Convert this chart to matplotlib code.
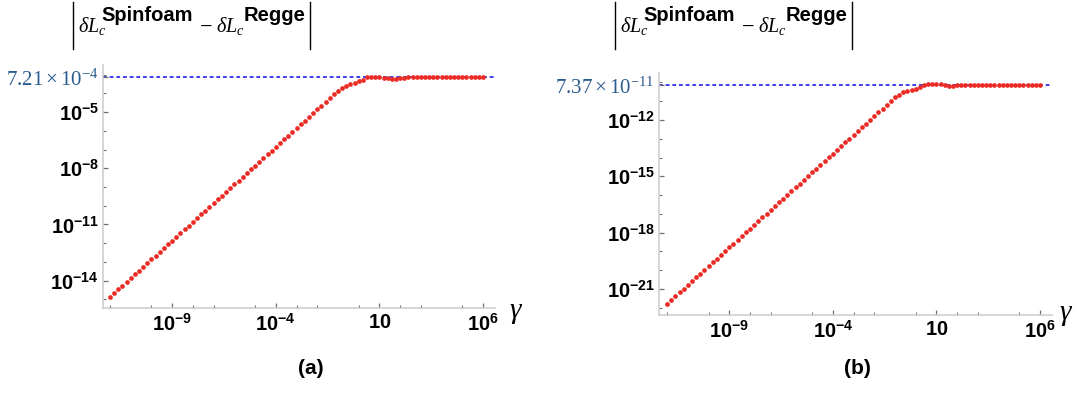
#!/usr/bin/env python3
import numpy as np
import matplotlib
matplotlib.use("Agg")
import matplotlib.pyplot as plt
from matplotlib.ticker import FixedLocator, FixedFormatter, NullFormatter
from matplotlib.lines import Line2D

# gamma grid (log10), same for both panels
GAMMA_EXP = [
    -12.0, -11.8, -11.6, -11.4, -11.2, -11.0, -10.8, -10.6, -10.4, -10.2,
    -10.0, -9.8, -9.6, -9.4, -9.2, -9.0, -8.8, -8.6, -8.4, -8.2,
    -8.0, -7.8, -7.6, -7.4, -7.2, -7.0, -6.8, -6.6, -6.4, -6.2,
    -6.0, -5.8, -5.6, -5.4, -5.2, -5.0, -4.8, -4.6, -4.4, -4.2,
    -4.0, -3.8, -3.6, -3.4, -3.2, -3.0, -2.8, -2.6, -2.4, -2.2,
    -2.0, -1.8, -1.6, -1.4, -1.2, -1.0, -0.8, -0.6, -0.4, -0.2,
    0.0, 0.2, 0.4, 0.6, 0.8, 1.0, 1.2, 1.4, 1.6, 1.8,
    2.0, 2.2, 2.4, 2.6, 2.8, 3.0, 3.2, 3.4, 3.6, 3.8,
    4.0, 4.2, 4.4, 4.6, 4.8, 5.0, 5.2, 5.4, 5.6, 5.8,
    6.0,
]

# |dL spinfoam - dL regge| (log10), panel (a)
DIFF_A_EXP = [
    -14.86, -14.66, -14.46, -14.26, -14.06, -13.86, -13.66, -13.46, -13.26, -13.06,
    -12.86, -12.66, -12.46, -12.26, -12.06, -11.86, -11.66, -11.46, -11.26, -11.06,
    -10.86, -10.66, -10.46, -10.26, -10.06, -9.86, -9.66, -9.46, -9.26, -9.06,
    -8.86, -8.66, -8.46, -8.26, -8.06, -7.86, -7.66, -7.46, -7.26, -7.06,
    -6.86, -6.66, -6.46, -6.26, -6.06, -5.86, -5.66, -5.46, -5.26, -5.06,
    -4.86, -4.66, -4.46, -4.26, -4.06, -3.87, -3.71, -3.60, -3.52, -3.44,
    -3.37, -3.27, -3.14, -3.11, -3.11, -3.14, -3.16, -3.21, -3.23, -3.23,
    -3.21, -3.16, -3.14, -3.14, -3.14, -3.14, -3.14, -3.14, -3.14, -3.14,
    -3.14, -3.14, -3.14, -3.14, -3.14, -3.14, -3.14, -3.14, -3.14, -3.14,
    -3.14,
]

# panel (b)
DIFF_B_EXP = [
    -21.79, -21.59, -21.39, -21.19, -20.99, -20.79, -20.59, -20.39, -20.19, -19.99,
    -19.79, -19.59, -19.39, -19.19, -18.99, -18.79, -18.59, -18.39, -18.19, -17.99,
    -17.79, -17.59, -17.39, -17.19, -16.99, -16.79, -16.59, -16.39, -16.19, -15.99,
    -15.79, -15.59, -15.39, -15.19, -14.99, -14.79, -14.59, -14.39, -14.19, -13.99,
    -13.79, -13.59, -13.39, -13.19, -12.99, -12.79, -12.59, -12.39, -12.19, -11.99,
    -11.79, -11.59, -11.39, -11.19, -10.99, -10.79, -10.65, -10.53, -10.46, -10.39,
    -10.33, -10.24, -10.14, -10.07, -10.08, -10.08, -10.10, -10.15, -10.17, -10.17,
    -10.15, -10.14, -10.13, -10.13, -10.13, -10.13, -10.13, -10.13, -10.13, -10.13,
    -10.13, -10.13, -10.13, -10.13, -10.13, -10.13, -10.13, -10.13, -10.13, -10.13,
    -10.13,
]

PLATEAU_A = 7.21e-4
PLATEAU_B = 7.37e-11
PLATEAU_A_LABEL = r"$\mathrm{7.21}\times\mathrm{10^{-4}}$"
PLATEAU_B_LABEL = r"$\mathrm{7.37}\times\mathrm{10^{-11}}$"

X_MAJOR = [1e-9, 1e-4, 1e1, 1e6]
X_LABELS = [r"$\mathbf{10^{-9}}$", r"$\mathbf{10^{-4}}$", r"$\mathbf{10}$", r"$\mathbf{10^{6}}$"]
X_MINOR = [1e-12, 1e-10, 1e-8, 1e-7, 1e-5, 1e-3, 1e-2, 1e0, 1e2, 1e3, 1e5]

Y_MAJOR_A = [1e-14, 1e-11, 1e-8, 1e-5]
Y_LABELS_A = [r"$\mathbf{10^{-14}}$", r"$\mathbf{10^{-11}}$", r"$\mathbf{10^{-8}}$", r"$\mathbf{10^{-5}}$"]
Y_MAJOR_B = [1e-21, 1e-18, 1e-15, 1e-12]
Y_LABELS_B = [r"$\mathbf{10^{-21}}$", r"$\mathbf{10^{-18}}$", r"$\mathbf{10^{-15}}$", r"$\mathbf{10^{-12}}$"]

PANEL_TAGS = ["(a)", "(b)"]

plt.rcParams.update({
    "font.family": ["Liberation Sans", "DejaVu Sans"],
    "mathtext.fontset": "custom",
    "mathtext.rm": "Liberation Serif",
    "mathtext.it": "Liberation Serif:italic",
    "mathtext.bf": "Liberation Sans:bold",
    "mathtext.sf": "Liberation Sans",
})

W, H = 1080, 393
RED = "#ec2b25"
BLUE = "#2020e8"
LABEL_BLUE = "#2b5b8e"
AXIS_GRAY = "#cbcbcb"
TICK_GRAY = "#707070"


def fx(x):
    return x / W


def fy(y):
    return 1 - y / H


def add_axes_px(fig, left, right, top, bottom):
    return fig.add_axes([fx(left), fy(bottom), (right - left) / W, (bottom - top) / H])


def draw_panel(ax, y_exp, plateau, plateau_label, y_major, y_labels, xlim, ylim):
    ax.axhline(plateau, color=BLUE, lw=1.2, ls=(0, (2.3, 1.7)), zorder=1)
    ax.plot(10.0 ** np.array(GAMMA_EXP), 10.0 ** np.array(y_exp), "o",
            ms=3.4, color=RED, mec="none", zorder=3, clip_on=False)

    ax.set_xscale("log")
    ax.set_yscale("log")
    ax.set_xlim(10.0 ** xlim[0], 10.0 ** xlim[1])
    ax.set_ylim(10.0 ** ylim[0], 10.0 ** ylim[1])

    ax.xaxis.set_major_locator(FixedLocator(X_MAJOR))
    ax.xaxis.set_major_formatter(FixedFormatter(X_LABELS))
    ax.xaxis.set_minor_locator(FixedLocator(X_MINOR))
    ax.xaxis.set_minor_formatter(NullFormatter())

    lo, hi = int(np.ceil(ylim[0])), int(np.floor(ylim[1]))
    y_minor = [10.0 ** k for k in range(lo, hi + 1) if 10.0 ** k not in y_major]
    ax.yaxis.set_major_locator(FixedLocator(y_major + [plateau]))
    ax.yaxis.set_major_formatter(FixedFormatter(y_labels + [plateau_label]))
    ax.yaxis.set_minor_locator(FixedLocator(y_minor))
    ax.yaxis.set_minor_formatter(NullFormatter())

    for s in ("top", "right"):
        ax.spines[s].set_visible(False)
    for s in ("left", "bottom"):
        ax.spines[s].set_color(AXIS_GRAY)
        ax.spines[s].set_linewidth(1.1)

    ax.tick_params(which="major", direction="in", length=3.4, width=0.9,
                   color=TICK_GRAY, labelsize=14.5)
    ax.tick_params(which="minor", direction="in", length=2.0, width=0.8,
                   color=TICK_GRAY)
    ax.tick_params(axis="x", which="major", pad=4)
    ax.tick_params(axis="y", which="major", pad=3)

    lab = ax.get_yticklabels()[-1]
    lab.set_color(LABEL_BLUE)
    lab.set_fontsize(15)


def draw_title(fig, x0):
    # |dL_c^Spinfoam - dL_c^Regge|
    for xb in (x0, x0 + 236.5):
        fig.add_artist(Line2D([fx(xb), fx(xb)], [fy(2), fy(49)], color="black", lw=1.0))
    fig.text(fx(x0 + 5), fy(31.7), r"$\delta L_c$", fontsize=14.5, va="baseline")
    fig.text(fx(x0 + 28), fy(20.7), "Spinfoam", fontsize=14.5, fontweight="bold", va="baseline")
    fig.text(fx(x0 + 126), fy(31.7), r"$-$", fontsize=16, va="baseline")
    fig.text(fx(x0 + 143), fy(31.7), r"$\delta L_c$", fontsize=14.5, va="baseline")
    fig.text(fx(x0 + 171), fy(20.7), "Regge", fontsize=14.5, fontweight="bold", va="baseline")


def main():
    fig = plt.figure(figsize=(W / 100, H / 100), dpi=100)

    ax_a = add_axes_px(fig, 103, 495, 65, 307.7)
    draw_panel(ax_a, DIFF_A_EXP, PLATEAU_A, PLATEAU_A_LABEL, Y_MAJOR_A, Y_LABELS_A,
               (-12.34, 6.58), (-15.44, -2.49))

    ax_b = add_axes_px(fig, 659, 1052.3, 73.3, 314.7)
    draw_panel(ax_b, DIFF_B_EXP, PLATEAU_B, PLATEAU_B_LABEL, Y_MAJOR_B, Y_LABELS_B,
               (-12.39, 6.59), (-22.38, -9.51))

    draw_title(fig, 73)
    draw_title(fig, 615)

    fig.text(fx(516), fy(312), r"$\gamma$", fontsize=21, ha="center", va="center")
    fig.text(fx(1066), fy(314), r"$\gamma$", fontsize=21, ha="center", va="center")

    fig.text(fx(310.7), fy(369), PANEL_TAGS[0], fontsize=15, fontweight="bold",
             ha="center", va="center")
    fig.text(fx(857), fy(369), PANEL_TAGS[1], fontsize=15, fontweight="bold",
             ha="center", va="center")

    fig.savefig("out.png", dpi=100)
    plt.close(fig)


if __name__ == "__main__":
    main()
